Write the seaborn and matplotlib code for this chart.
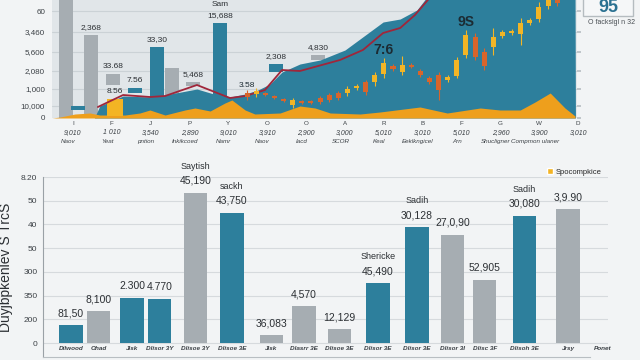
import numpy as np
import pandas as pd
import matplotlib
matplotlib.use("Agg")
import matplotlib.pyplot as plt
import seaborn as sns
from matplotlib.patches import Patch, Rectangle

# ---------------- top panel data ----------------
top_tick_letters = ["I", "F", "J", "P", "Y", "O", "O", "A", "R", "B", "F", "G", "W", "D"]
top_tick_numbers = ["9,010", "1 010", "3,540", "2,890", "9,010", "3,910", "2,900",
                    "3,000", "5,010", "3,010", "5,010", "2,960", "3,900", "3,010"]
top_tick_words = ["Naov", "Yeat", "pntion", "Inkikcoed", "Namr", "Naov", "Iacd",
                  "SCOR", "Keal", "Eeklkngicel", "Arn", "Shucligner", "Compmon ulaner", ""]
top_ytick_vals = [0, 12, 29, 47, 66, 86, 107]
top_ytick_labels = ["0", "10,000", "1,000", "2,080", "5,600", "3,460", "60"]

grey_x = [-0.18, 0.46, 1.04, 2.56, 3.10, 6.31]
grey_lo = [0, 0, 33, 0, 32, 58]
grey_hi = [125, 83, 44, 50, 36, 63]
grey_labels = ["", "2,368", "33.68", "", "5,468", "4,830"]

teal_x = [0.12, 1.60, 2.17, 3.78, 5.23]
teal_lo = [8, 25, 0, 0, 46]
teal_hi = [12, 30, 71, 95, 54]
teal_labels = ["", "7.56", "33,30", "15,688", "2,308"]
teal_names = ["", "", "", "Sam", ""]

gold_x = [1.08]
gold_lo = [2]
gold_hi = [19]
gold_labels = ["8.56"]

area_x = [0.55, 0.69, 1.29, 1.98, 2.37, 3.19, 3.71, 4.04, 4.43, 4.76, 5.07, 5.38,
          5.84, 6.36, 7.00, 7.98, 8.42, 8.85, 9.19, 12.92, 12.93]
area_y = [0, 12, 22, 21, 23, 29, 23, 21, 24, 28, 34, 46,
          54, 58, 68, 96, 99, 108, 125, 125, 0]

red_x = [0.64, 1.29, 1.98, 2.37, 3.19, 4.04, 4.43, 4.94, 5.38, 5.84, 6.87, 7.46,
         7.98, 8.42, 8.80, 9.24]
red_y = [11, 23, 21, 22, 33, 20, 22, 28, 48, 47, 58, 68, 85, 90, 103, 123]

orange_x = [-0.54, -0.33, 0.05, 0.44, 0.69, 1.34, 1.72, 1.98, 2.37, 2.88, 3.14, 3.53,
            3.91, 4.09, 4.43, 4.68, 5.33, 5.84, 6.23, 6.62, 7.39, 7.90, 8.93, 9.63,
            10.48, 10.99, 11.51, 11.89, 12.28, 12.66, 12.92]
orange_y = [0, 1, 4, 5, 3, 3, 5, 8, 3, 8, 10, 7, 15, 18, 8, 4, 5, 12, 10, 5, 4, 6,
            11, 5, 10, 8, 8, 16, 25, 10, 2]

c_open = [25, 24, 25, 22, 19, 13, 17, 17, 20, 23, 25, 25, 30, 36, 36, 44, 52, 46,
          53, 47, 40, 43, 38, 42, 63, 81, 66, 71, 82, 85, 84, 95, 99, 112, 118]
c_close = [21, 27, 23, 20, 17, 18, 15, 15, 16, 18, 20, 29, 32, 26, 43, 55, 49, 53,
           51, 43, 36, 28, 41, 58, 83, 61, 52, 81, 86, 87, 95, 98, 111, 118, 115]
c_high = [28, 30, 26, 23, 20, 20, 18, 18, 22, 25, 27, 32, 34, 38, 46, 60, 54, 62,
          55, 49, 42, 46, 43, 61, 88, 85, 70, 90, 88, 89, 100, 100, 116, 122, 122]
c_low = [18, 21, 22, 19, 16, 10, 14, 14, 14, 16, 18, 22, 28, 23, 32, 40, 47, 43,
         50, 41, 34, 18, 36, 40, 60, 58, 48, 63, 80, 83, 73, 93, 96, 109, 112]
c_labels = {0: "3.58", 15: "7:6", 24: "9S"}

# ---------------- bottom panel data ----------------
bar_pos = [0.79, 1.57, 2.52, 3.30, 4.32, 5.35, 6.47, 7.39, 8.40, 9.49, 10.59,
           11.60, 12.51, 13.63, 14.87]
bar_val = [0.76, 1.35, 1.90, 1.86, 6.33, 5.49, 0.34, 1.56, 0.59, 2.53, 4.89,
           4.56, 2.66, 5.36, 5.65]
bar_grp = ["A", "B", "A", "A", "B", "A", "B", "B", "B", "A", "A", "B", "B", "A", "B"]
bar_vlabels = ["81,50", "8,100", "2.300", "4.770", "45,190", "43,750", "36,083",
               "4,570", "12,129", "45,490", "30,128", "27,0,90", "52,905",
               "30,080", "3,9.90"]
bar_names = ["", "", "", "", "Saytish", "sackh", "", "", "", "Shericke", "Sadih",
             "", "", "Sadih", ""]
bottom_xlabels = ["Dilwood", "Ohad", "Jisk", "Dlisor 3Y", "Dlisoe 3Y", "Dlisoe 3E",
                  "Jisk", "Dlasrr 3E", "Dlisoe 3E", "Dlisor 3E", "Dlisor 3E",
                  "Dlisor 3I", "Dlisc 3F", "Dlisoh 3E", "Jrsy", "Ponet"]
extra_label_pos = 15.84
bottom_ytick_labels = ["0", "200", "350", "300", "50", "40", "50", "8.20"]
bottom_ylabel = "Duyjbpkenlev S TrcS"
legend_label = "Spocompkice"
box_title = "95"
box_sub = "O fackslgl n 32"

# ---------------- styles ----------------
TEAL = "#2d7f9c"
GREY = "#a6adb2"
GOLD = "#f3b424"
ORANGE = "#ee9f1c"
CANDLE_UP = "#f2b526"
CANDLE_DN = "#d8652b"
RED = "#a0263a"
TXT = "#2b2f33"

sns.set_theme(style="white")
plt.rcParams["font.family"] = ["Liberation Sans", "DejaVu Sans"]

fig = plt.figure(figsize=(6.4, 3.6), dpi=100, facecolor="#f2f4f5")
W, H = 640.0, 360.0

# ---------------- top panel ----------------
ax = fig.add_axes([52 / W, 1 - 118 / H, (577 - 52) / W, 118 / H])
ax.set_facecolor("#e1e6e9")
ax.set_xlim(-0.54, 12.97)
ax.set_ylim(0, 118)
for v in top_ytick_vals:
    ax.axhline(v, color="#cbd2d6", lw=0.8, zorder=0)

bw = 0.36
ax.bar(grey_x, np.array(grey_hi) - np.array(grey_lo), bottom=grey_lo, width=bw,
       color=GREY, zorder=1, linewidth=0)
ax.fill_between(area_x, 0, area_y, color=TEAL, lw=0, zorder=2)
ax.bar(teal_x, np.array(teal_hi) - np.array(teal_lo), bottom=teal_lo, width=bw,
       color=TEAL, zorder=2.2, linewidth=0)
ax.fill_between(orange_x, 0, orange_y, color=ORANGE, lw=0, zorder=3)
ax.bar(gold_x, np.array(gold_hi) - np.array(gold_lo), bottom=gold_lo, width=0.41,
       color=GOLD, zorder=3.5, linewidth=0)
sns.lineplot(x=red_x, y=red_y, ax=ax, color=RED, lw=1.3, estimator=None,
             sort=False, zorder=4)

c_start, c_step = 4.48, 0.2347
cx = c_start + c_step * np.arange(len(c_open))
c_open_a, c_close_a = np.array(c_open), np.array(c_close)
up = c_close_a >= c_open_a
ccol = np.where(up, CANDLE_UP, CANDLE_DN)
ax.vlines(cx, c_low, c_high, colors=ccol, lw=0.8, zorder=5)
ax.bar(cx, np.abs(c_close_a - c_open_a), bottom=np.minimum(c_open_a, c_close_a),
       width=0.13, color=ccol, zorder=5.5, linewidth=0)

for x, hi, t in zip(grey_x, grey_hi, grey_labels):
    if t:
        ax.annotate(t, (x, hi), xytext=(0, 3), textcoords="offset points",
                    ha="center", va="bottom", fontsize=6, color=TXT, zorder=7)
for x, hi, t, n in zip(teal_x, teal_hi, teal_labels, teal_names):
    if t:
        ax.annotate(t, (x, hi), xytext=(0, 3), textcoords="offset points",
                    ha="center", va="bottom", fontsize=6, color=TXT, zorder=7)
    if n:
        ax.annotate(n, (x, hi), xytext=(0, 10.5), textcoords="offset points",
                    ha="center", va="bottom", fontsize=6, color=TXT, zorder=7)
for x, hi, t in zip(gold_x, gold_hi, gold_labels):
    ax.annotate(t, (x, hi), xytext=(0, 3), textcoords="offset points",
                ha="center", va="bottom", fontsize=6, color=TXT, zorder=7)
for i, t in c_labels.items():
    big = t != "3.58"
    ax.annotate(t, (cx[i], c_high[i]), xytext=(0, 1), textcoords="offset points",
                ha="center", va="bottom", fontsize=10 if big else 6,
                fontweight="bold" if big else "normal", color="#1c2b33", zorder=7)

ax.set_xticks([])
ax.set_yticks(top_ytick_vals)
ax.set_yticklabels(top_ytick_labels, fontsize=5.8, color="#3c4146")
ax.tick_params(axis="y", left=False, right=True, length=3, color="#b9c0c4", pad=2)
for s in ax.spines.values():
    s.set_visible(False)
trans = ax.get_xaxis_transform()
for i in range(len(top_tick_letters)):
    ax.text(i, -0.05, top_tick_letters[i], transform=trans, ha="center", va="center",
            fontsize=4.5, color="#3c4146", clip_on=False)
    ax.text(i, -0.12, top_tick_numbers[i], transform=trans, ha="center", va="center",
            fontsize=5, style="italic", color="#3c4146", clip_on=False)
    ax.text(i - 0.12, -0.195, top_tick_words[i], transform=trans, ha="center",
            va="center", fontsize=4.5, style="italic", color="#3c4146", clip_on=False)

# box top right
fig.patches.append(Rectangle((583 / W, 1 - 16 / H), 50 / W, 22 / H,
                             transform=fig.transFigure, facecolor="#f5f7f8",
                             edgecolor="#b5bcc0", lw=1.0))
fig.text(608 / W, 1 - 8 / H, box_title, ha="center", va="center", fontsize=13,
         fontweight="bold", color="#2a7191")
fig.text(612 / W, 1 - 22 / H, box_sub, ha="center", va="center", fontsize=5,
         color="#4a4f54")

# ---------------- bottom panel ----------------
bx = fig.add_axes([43 / W, 1 - 357 / H, (608 - 43) / W, (357 - 177) / H])
bx.set_facecolor("#f2f4f5")
df = pd.DataFrame({"pos": bar_pos, "val": bar_val, "grp": bar_grp})
for v in range(0, 8):
    bx.axhline(v, color="#d6dadd", lw=0.8, zorder=0)
sns.barplot(data=df, x="pos", y="val", hue="grp", palette={"A": TEAL, "B": GREY},
            native_scale=True, dodge=False, width=0.846, legend=False, ax=bx,
            linewidth=0, saturation=1, zorder=2)
bx.set_xlim(0, 16.0)
bx.set_ylim(-0.59, 7.0)

for x, v, t, n in zip(bar_pos, bar_val, bar_vlabels, bar_names):
    bx.annotate(t, (x, v), xytext=(0, 5), textcoords="offset points", ha="center",
                va="bottom", fontsize=7.5, color=TXT)
    if n:
        bx.annotate(n, (x, v), xytext=(0, 16), textcoords="offset points",
                    ha="center", va="bottom", fontsize=6.5, color=TXT)

bx.set_xticks(list(bar_pos) + [extra_label_pos])
bx.set_xticklabels(bottom_xlabels, fontsize=4.6, style="italic", fontweight="bold",
                   color="#3a3f44")
bx.tick_params(axis="x", length=0, pad=-8)
bx.set_yticks(range(8))
bx.set_yticklabels(bottom_ytick_labels, fontsize=6, color="#3c4146")
bx.tick_params(axis="y", length=0, pad=4)
bx.set_xlabel("")
bx.set_ylabel(bottom_ylabel, fontsize=10, color=TXT, labelpad=6)
for k in ["top", "right"]:
    bx.spines[k].set_visible(False)
bx.spines["left"].set_color("#9aa1a6")
bx.spines["left"].set_linewidth(0.8)
bx.spines["bottom"].set_color("#b8bec2")
bx.spines["bottom"].set_linewidth(0.8)
bx.spines["bottom"].set_bounds(0, 15.5)

bx.legend(handles=[Patch(facecolor=GOLD)], labels=[legend_label], loc="center left",
          bbox_to_anchor=(543 / W, 1 - 172 / H), bbox_transform=fig.transFigure,
          handlelength=0.8, handleheight=0.8, fontsize=5.5, frameon=False,
          borderpad=0, handletextpad=0.4)

fig.savefig("out.png", dpi=100, facecolor=fig.get_facecolor())
